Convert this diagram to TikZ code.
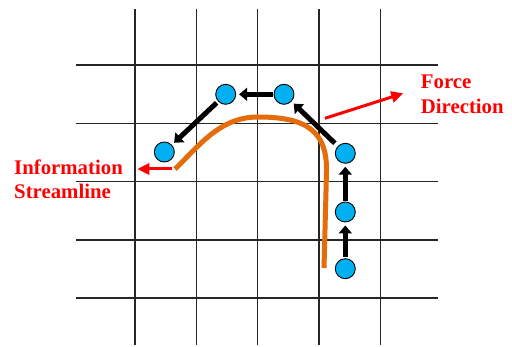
\documentclass[tikz,border=0pt]{standalone}
\usepackage{fontspec}
\setmainfont{Liberation Serif}
\usetikzlibrary{arrows.meta}
\definecolor{cellblue}{HTML}{00B0F0}
\definecolor{streamorange}{HTML}{E46C0A}
\definecolor{labelred}{HTML}{FF0000}
\tikzset{
  gridline/.style={line width=1.4pt, draw=black!85},
  cell/.style={circle, fill=cellblue, draw=black, line width=0.9pt, minimum size=20pt, inner sep=0pt},
  move/.style={line width=5pt, -{Triangle[length=8pt,width=13pt]}, shorten <=1pt, shorten >=3pt},
  redarrow/.style={line width=3pt, draw=labelred, -{Triangle[length=12pt,width=11pt]}},
  stream/.style={line width=5pt, draw=streamorange},
  lbl/.style={text=labelred, font=\bfseries\fontsize{20.8}{24}\selectfont, anchor=base west, inner sep=0pt}
}
\begin{document}
\begin{tikzpicture}[x=1pt, y=-1pt]
\useasboundingbox (0,0) rectangle (512,347);
% grid
\foreach \gx in {135,196.3,257.7,319,380.3} \draw[gridline] (\gx,9) -- (\gx,345);
\foreach \gy in {65,123.3,181.7,240,298} \draw[gridline] (76,\gy) -- (438,\gy);
% streamline
\coordinate (sbot) at (324,268);
\coordinate (send) at (175,169);
\draw[stream] (sbot) -- (326.5,172) .. controls (327.5,130) and (305,117) .. (258,117) .. controls (220,117) and (200,145) .. (send);
% cells
\node[cell] (c1) at (345.3,268.7) {};
\node[cell] (c2) at (345.3,212) {};
\node[cell] (c3) at (345.3,153.3) {};
\node[cell] (c4) at (284,94.3) {};
\node[cell] (c5) at (225.7,94.3) {};
\node[cell] (c6) at (164.3,152) {};
% movement arrows
\draw[move] (c1) -- (c2);
\draw[move] (c2) -- (c3);
\draw[move, shorten <=4pt] (c3) -- (c4);
\draw[move] (c4) -- (c5);
\draw[move, shorten <=2pt] (c5) -- (c6);
% labels
\node[lbl] (force1) at (420.7,89) {Force};
\node[lbl] (force2) at (420.7,114) {Direction};
\node[lbl] (info1) at (14,175) {Information};
\node[lbl] (info2) at (14,199) {Streamline};
\coordinate (fstart) at (325,118.3);
\coordinate (fend) at (403.3,93.3);
\coordinate (istart) at (171.7,169);
\coordinate (iend) at (137.3,169);
\draw[redarrow] (fstart) -- (fend);
\draw[redarrow] (istart) -- (iend);
\end{tikzpicture}
\end{document}
